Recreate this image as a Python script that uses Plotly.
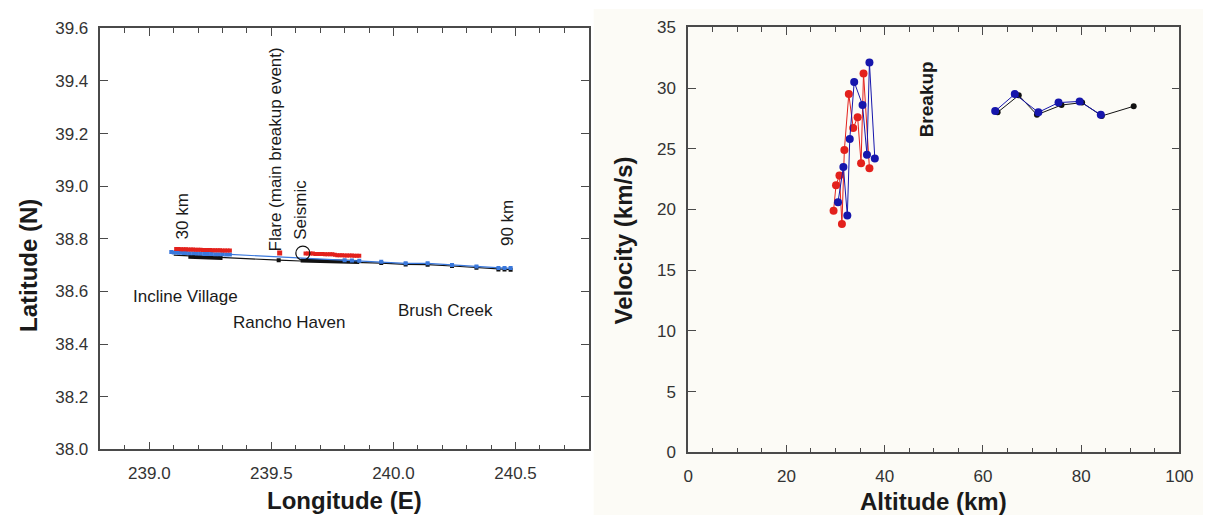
import plotly.graph_objects as go

W, H = 1217, 525

# ---------------- ground track (left panel) ----------------
# red camera solution, early segment and post-flare segment
red_a_lon = [239.11, 239.12, 239.13, 239.14, 239.15, 239.16, 239.17, 239.18, 239.19, 239.20, 239.21, 239.22,
             239.23, 239.24, 239.25, 239.26, 239.27, 239.28, 239.29, 239.30, 239.31, 239.32, 239.33]
red_a_lat = [38.762, 38.762, 38.761, 38.761, 38.761, 38.760, 38.760, 38.760, 38.759, 38.759, 38.759, 38.758,
             38.758, 38.758, 38.758, 38.757, 38.757, 38.757, 38.757, 38.756, 38.756, 38.756, 38.756]
red_b_lon = [239.64, 239.65, 239.66, 239.67, 239.68, 239.69, 239.70, 239.71, 239.72, 239.73, 239.74, 239.75,
             239.76, 239.77, 239.78, 239.79, 239.80, 239.81, 239.82, 239.83, 239.84, 239.85, 239.86]
red_b_lat = [38.744, 38.744, 38.744, 38.744, 38.743, 38.743, 38.743, 38.743, 38.742, 38.742, 38.742, 38.742,
             38.740, 38.738, 38.738, 38.738, 38.737, 38.737, 38.737, 38.737, 38.736, 38.736, 38.736]

# blue camera solution
blue_a_lon = [239.09, 239.10, 239.11, 239.12, 239.13, 239.14, 239.15, 239.165, 239.18, 239.195, 239.21,
              239.225, 239.24, 239.255, 239.27, 239.285, 239.30, 239.315, 239.33]
blue_a_lat = [38.750, 38.748, 38.749, 38.747, 38.748, 38.746, 38.746, 38.745, 38.745, 38.744, 38.744,
              38.743, 38.743, 38.743, 38.742, 38.742, 38.742, 38.741, 38.741]
blue_track_lon = [239.33, 239.62, 239.80, 239.83, 239.86, 239.95, 240.05, 240.14, 240.24, 240.34, 240.43, 240.455, 240.48]
blue_track_lat = [38.741, 38.727, 38.719, 38.718, 38.717, 38.713, 38.707, 38.707, 38.701, 38.695, 38.689, 38.689, 38.689]

# black (combined) trajectory
track_lon = [239.10, 239.20, 239.32, 239.45, 239.53, 239.62, 239.75, 239.87, 239.95, 240.05, 240.14, 240.24, 240.34, 240.43, 240.48]
track_lat = [38.738, 38.733, 38.727, 38.722, 38.719, 38.716, 38.713, 38.710, 38.708, 38.703, 38.702, 38.697, 38.690, 38.684, 38.683]
black_a_lon = [239.16, 239.20, 239.24, 239.27, 239.30]
black_a_lat = [38.732, 38.731, 38.729, 38.728, 38.727]
black_b_lon = [239.62, 239.66, 239.70, 239.74, 239.78, 239.82, 239.86]
black_b_lat = [38.718, 38.717, 38.716, 38.715, 38.714, 38.713, 38.712]
black_pts_lon = [239.53, 239.95, 240.05, 240.14, 240.24, 240.34, 240.43, 240.455, 240.48]
black_pts_lat = [38.719, 38.708, 38.703, 38.702, 38.697, 38.690, 38.684, 38.684, 38.683]

flare_lon, flare_lat = [239.534], [38.746]
seismic_lon, seismic_lat = [239.629], [38.746]

# ---------------- velocity vs altitude (right panel) ----------------
red_alt = [36.9, 35.7, 35.2, 34.5, 33.6, 32.7, 31.8, 31.3, 30.8, 30.1, 29.6]
red_vel = [23.4, 31.2, 23.8, 27.6, 26.7, 29.5, 24.9, 18.8, 22.8, 22.0, 19.9]
blue_alt = [38.0, 36.9, 36.4, 35.5, 33.8, 32.9, 32.4, 31.6, 30.5]
blue_vel = [24.2, 32.1, 24.5, 28.6, 30.5, 25.8, 19.5, 23.5, 20.6]
black_hi_alt = [63.0, 67.3, 71.0, 76.0, 80.2, 84.2, 90.7]
black_hi_vel = [28.0, 29.4, 27.8, 28.6, 28.8, 27.7, 28.5]
blue_hi_alt = [62.5, 66.5, 71.3, 75.4, 79.7, 84.0]
blue_hi_vel = [28.1, 29.5, 28.0, 28.8, 28.9, 27.8]

RED = "#e3211c"
LBLUE = "#3a78dc"
DBLUE = "#1616ac"
BLACK = "#111111"
AX = "#4a4a4a"
TXT = "#333333"
FONT = "Liberation Sans, Arial, sans-serif"

fig = go.Figure()

def sq(x, y, color, size, xa="x", ya="y", mode="markers", lw=1, symbol="square"):
    fig.add_trace(go.Scatter(x=x, y=y, mode=mode, xaxis=xa, yaxis=ya,
                             line=dict(color=color, width=lw),
                             marker=dict(color=color, size=size, symbol=symbol, line=dict(width=0)),
                             showlegend=False, hoverinfo="skip"))

# left panel traces
sq(track_lon, track_lat, BLACK, 0.1, mode="lines", lw=1.2)
sq(black_a_lon, black_a_lat, BLACK, 0.1, mode="lines", lw=4)
sq(black_b_lon, black_b_lat, BLACK, 0.1, mode="lines", lw=4)
sq(black_pts_lon, black_pts_lat, BLACK, 4)
sq(blue_track_lon, blue_track_lat, LBLUE, 0.1, mode="lines", lw=1.2)
sq(blue_a_lon, blue_a_lat, LBLUE, 4)
sq(blue_track_lon[2:], blue_track_lat[2:], LBLUE, 4)
sq(red_a_lon, red_a_lat, RED, 4)
sq(red_b_lon, red_b_lat, RED, 4)
sq(flare_lon, flare_lat, RED, 5)
fig.add_trace(go.Scatter(x=seismic_lon, y=seismic_lat, mode="markers", xaxis="x", yaxis="y",
                         marker=dict(symbol="circle-open", size=14, color=BLACK, line=dict(width=1.2)),
                         showlegend=False, hoverinfo="skip"))

# right panel traces
sq(black_hi_alt, black_hi_vel, BLACK, 6, xa="x2", ya="y2", mode="lines+markers", symbol="circle")
sq(blue_hi_alt, blue_hi_vel, DBLUE, 8, xa="x2", ya="y2", mode="lines+markers", symbol="circle")
sq(red_alt, red_vel, RED, 8, xa="x2", ya="y2", mode="lines+markers", symbol="circle")
sq(blue_alt, blue_vel, DBLUE, 8, xa="x2", ya="y2", mode="lines+markers", symbol="circle")

def px(x):
    return x / W

def py(y):
    return 1 - y / H

axis_common = dict(showline=True, linecolor=AX, linewidth=1.5, mirror="allticks", ticks="inside",
                   tickcolor=AX, tickwidth=1.2, ticklen=8, showgrid=False, zeroline=False,
                   tickfont=dict(family=FONT, size=17, color=TXT), ticklabelstandoff=7)

fig.update_layout(
    width=W, height=H, autosize=False,
    margin=dict(l=0, r=0, t=0, b=0),
    paper_bgcolor="white", plot_bgcolor="white",
    xaxis=dict(domain=[px(97), px(593)], range=[238.8, 240.8], dtick=0.5, tick0=239.0, tickformat=".1f",
               minor=dict(dtick=0.1, ticks="inside", ticklen=5, tickcolor=AX, tickwidth=1), anchor="y",
               **axis_common),
    yaxis=dict(domain=[py(457), py(20)], range=[38.0, 39.6], dtick=0.2, tickformat=".1f", anchor="x",
               **axis_common),
    xaxis2=dict(domain=[px(694), px(1193)], range=[0, 100], dtick=20,
                minor=dict(dtick=5, ticks="inside", ticklen=5, tickcolor=AX, tickwidth=1), anchor="y2",
                **axis_common),
    yaxis2=dict(domain=[py(460), py(19)], range=[0, 35], dtick=5, anchor="x2", **axis_common),
)

# cream backdrop behind the right panel
fig.add_shape(type="rect", xref="paper", yref="paper", x0=px(598), x1=1, y0=0, y1=1,
              fillcolor="#fcfbf6", line=dict(width=0), layer="below")

def note(text, x, y, xref="x", yref="y", size=17, angle=0, bold=False):
    fig.add_annotation(text=f"<b>{text}</b>" if bold else text, x=x, y=y, xref=xref, yref=yref,
                       showarrow=False, textangle=angle, xanchor="center", yanchor="middle",
                       font=dict(family=FONT, size=size, color="#1a1a1a"))

# axis titles
note("Latitude (N)", px(24), py(266), "paper", "paper", size=24, angle=-90, bold=True)
note("Longitude (E)", px(345), py(510), "paper", "paper", size=24, bold=True)
note("Velocity (km/s)", px(628), py(240), "paper", "paper", size=24, angle=-90, bold=True)
note("Altitude (km)", px(943), py(511), "paper", "paper", size=24, bold=True)

# place labels on the track plot
note("30 km", 239.135, 38.886, angle=-90)
note("Flare (main breakup event)", 239.518, 39.139, angle=-90)
note("Seismic", 239.619, 38.912, angle=-90)
note("90 km", 240.465, 38.860, angle=-90)
note("Incline Village", 239.147, 38.582)
note("Rancho Haven", 239.574, 38.483)
note("Brush Creek", 240.215, 38.527)

note("Breakup", 48.7, 29.1, "x2", "y2", size=19, angle=-90, bold=True)

fig.write_html("out.html")
